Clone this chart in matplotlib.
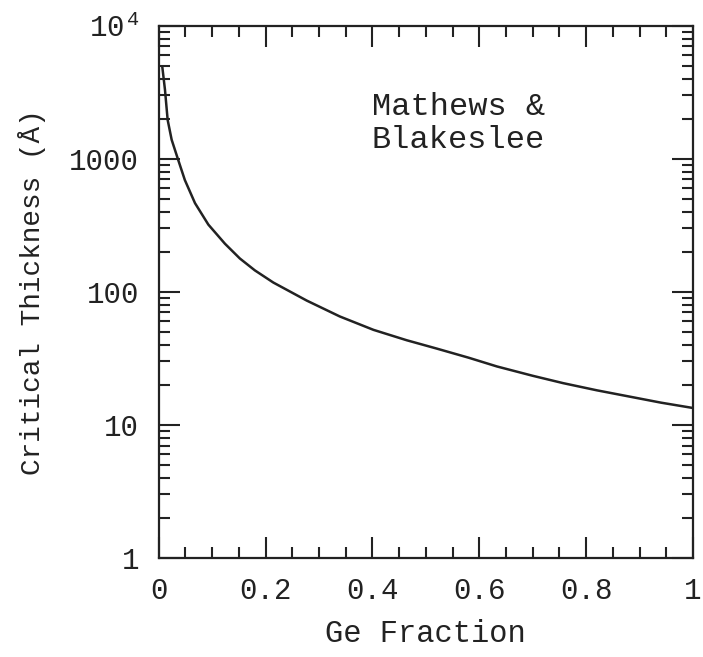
import numpy as np
import matplotlib
matplotlib.use("Agg")
from matplotlib import pyplot as plt
from matplotlib.ticker import FixedLocator, MultipleLocator, LogLocator, NullFormatter

# Mathews & Blakeslee critical thickness
ge_frac = [0.0067, 0.0118, 0.0168, 0.0243, 0.0355, 0.049, 0.068, 0.093,
           0.124, 0.152, 0.180, 0.2145, 0.277, 0.339, 0.402, 0.464, 0.520,
           0.58, 0.633, 0.70, 0.757, 0.82, 0.882, 0.94, 1.0]
thick = [4940, 3300, 1960, 1390, 1010, 692, 464, 320,
         230, 178, 145, 117.5, 86, 65.3, 51.8, 43.3, 37.5,
         32, 27.5, 23.4, 20.6, 18.2, 16.3, 14.7, 13.4]

yticks = [1, 10, 100, 1000, 10000]
ylabels = ["1", "10", "100", "1000", r"10$^{\,4}$"]
xticks = [0, 0.2, 0.4, 0.6, 0.8, 1]
xlabels = ["0", "0.2", "0.4", "0.6", "0.8", "1"]

plt.rcParams['font.family'] = ['Liberation Mono', 'DejaVu Sans']
plt.rcParams['mathtext.fontset'] = 'custom'
plt.rcParams['mathtext.rm'] = 'Liberation Mono'
plt.rcParams['mathtext.it'] = 'Liberation Mono'
ink = '#222222'

fig = plt.figure(figsize=(7.03, 6.57), dpi=100)
ax = fig.add_axes([0.2257, 0.1507, 0.9858 - 0.2257, 0.9609 - 0.1507])

ax.plot(ge_frac, thick, color=ink, lw=1.8)
ax.set_yscale('log')
ax.set_xlim(0, 1)
ax.set_ylim(1, 1e4)

ax.xaxis.set_major_locator(FixedLocator(xticks))
ax.set_xticklabels(xlabels)
ax.xaxis.set_minor_locator(MultipleLocator(0.05))
ax.yaxis.set_major_locator(FixedLocator(yticks))
ax.set_yticklabels(ylabels)
ax.yaxis.set_minor_locator(LogLocator(base=10, subs=np.arange(2, 10)))
ax.yaxis.set_minor_formatter(NullFormatter())

ax.tick_params(which='both', direction='in', top=True, right=True, color=ink,
               labelcolor=ink, labelsize=21, width=1.5, pad=14)
ax.tick_params(which='major', length=15)
ax.tick_params(which='minor', length=8)
for s in ax.spines.values():
    s.set_linewidth(1.6)
    s.set_color(ink)

ax.set_xlabel("Ge Fraction", fontsize=22, color=ink, labelpad=10)
ax.set_ylabel("Critical Thickness (Å)", fontsize=20, color=ink, labelpad=17)
ax.text(0.399, 0.8755, "Mathews &\nBlakeslee", transform=ax.transAxes,
        fontsize=23, color=ink, linespacing=1.15, va='top')

fig.savefig("out.png", dpi=100)
